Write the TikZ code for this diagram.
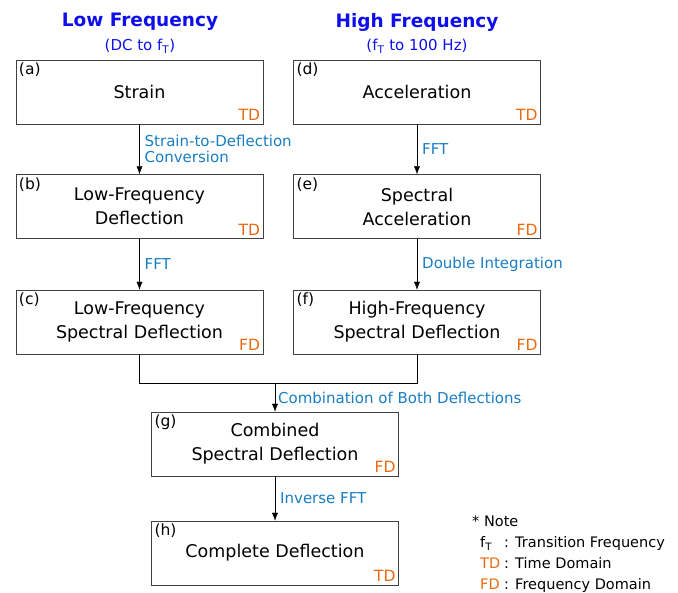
\documentclass[tikz,border=0pt]{standalone}
\usepackage{fontspec}
\setmainfont{DejaVu Sans}
\usetikzlibrary{arrows.meta}

\definecolor{titleblue}{RGB}{15,15,235}
\definecolor{labelblue}{RGB}{25,125,195}
\definecolor{domorange}{RGB}{235,105,15}

\tikzset{
  box/.style={draw=black!75, minimum width=247pt, minimum height=64pt, inner sep=0pt,
    align=center, font=\fontsize{17.5}{24}\selectfont},
  tag/.style={anchor=north west, inner sep=3pt, font=\fontsize{15.5}{16}\selectfont},
  dom/.style={anchor=south east, inner sep=3pt, text=domorange, font=\fontsize{15.5}{16}\selectfont},
  lbl/.style={right, inner sep=5pt, text=labelblue, align=left, font=\fontsize{15}{16}\selectfont},
  flow/.style={-{Latex[length=8pt,width=6pt]}, black}
}

\begin{document}
\begin{tikzpicture}[x=1pt,y=-1pt]
    \useasboundingbox (0,0) rectangle (678,593);
    % column titles
    \node[text=titleblue, font=\fontsize{18.5}{20}\selectfont\bfseries] (lowtitle) at (140,22) {Low Frequency};
    \node[text=titleblue, font=\fontsize{15}{16}\selectfont] (lowrange) at (140,46) {(DC to f\textsubscript{T})};
    \node[text=titleblue, font=\fontsize{18.5}{20}\selectfont\bfseries] (hightitle) at (417,22) {High Frequency};
    \node[text=titleblue, font=\fontsize{15}{16}\selectfont] (highrange) at (417,46) {(f\textsubscript{T} to 100 Hz)};

    % boxes
    \node[box] (a) at (139.5,92) {Strain};
    \node[box] (b) at (139.5,206.5) {Low-Frequency\\Deflection};
    \node[box] (c) at (139.5,322) {Low-Frequency\\Spectral Deflection};
    \node[box] (d) at (417,92) {Acceleration};
    \node[box] (e) at (417,206.5) {Spectral\\Acceleration};
    \node[box] (f) at (417,322) {High-Frequency\\Spectral Deflection};
    \node[box] (g) at (275,444) {Combined\\Spectral Deflection};
    \node[box] (h) at (275,553) {Complete Deflection};

    % letters and domains
    \foreach \n in {a,b,c,d,e,f,g,h}
      \node[tag] (\n tag) at (\n.north west) {(\n)};
    \foreach \n/\d in {a/TD,b/TD,c/FD,d/TD,e/FD,f/FD,g/FD,h/TD}
      \node[dom] (\n dom) at (\n.south east) {\d};

    % connectors
    \draw[flow] (a) -- (b) node[lbl, midway] {Strain-to-Deflection\\Conversion};
    \draw[flow] (b) -- (c) node[lbl, midway] {FFT};
    \draw[flow] (d) -- (e) node[lbl, midway] {FFT};
    \draw[flow] (e) -- (f) node[lbl, midway] {Double Integration};
    \coordinate (join) at (275,383.5);
    \draw (c.south) |- (join) -| (f.south);
    \draw[flow] (join) -- (g) node[lbl, midway, inner sep=3pt] {Combination of Both Deflections};
    \draw[flow] (g) -- (h) node[lbl, midway] {Inverse FFT};

    % note
    \node[anchor=north west, inner sep=0pt, font=\fontsize{14.5}{21}\selectfont] (note) at (472,512) {%
      \begin{tabular}{@{}l@{\hspace{4pt}}l@{}}
        \multicolumn{2}{@{}l@{}}{* Note}\\
        \hspace{8pt}f\textsubscript{T} & : Transition Frequency\\
        \hspace{8pt}\textcolor{domorange}{TD} & : Time Domain\\
        \hspace{8pt}\textcolor{domorange}{FD} & : Frequency Domain
      \end{tabular}};
\end{tikzpicture}
\end{document}
